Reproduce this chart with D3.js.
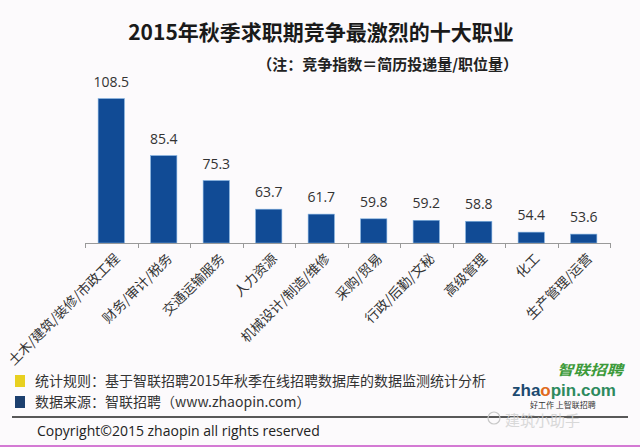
<!DOCTYPE html>
<html><head><meta charset="utf-8">
<script src="https://cdn.jsdelivr.net/npm/d3@7"></script>
<style>
html,body{margin:0;padding:0;background:#fcfafc;}
svg{display:block;}
</style></head>
<body>
<svg id="chart" width="640" height="447"></svg>
<script>
const categories = ["土木/建筑/装修/市政工程","财务/审计/税务","交通运输服务","人力资源","机械设计/制造/维修","采购/贸易","行政/后勤/文秘","高级管理","化工","生产管理/运营"];
const values = [108.5, 85.4, 75.3, 63.7, 61.7, 59.8, 59.2, 58.8, 54.4, 53.6];
const yDomain = [50, 110];
const title = "2015年秋季求职期竞争最激烈的十大职业";
const subtitle = "（注：竞争指数＝简历投递量/职位量）";
const notes = ["统计规则：基于智联招聘2015年秋季在线招聘数据库的数据监测统计分析", "数据来源：智联招聘（www.zhaopin.com）"];
const noteColors = ["#e8d020", "#1c3f6e"];
const copyright = "Copyright©2015 zhaopin all rights reserved";

const svg = d3.select("#chart");
const cjk = "'Noto Sans CJK SC', sans-serif";
const latin = "'Open Sans', 'Noto Sans CJK SC', sans-serif";

svg.append("rect").attr("width",640).attr("height",447).attr("fill","#fcfafc");

// title
svg.append("text").attr("x",321).attr("y",40).attr("text-anchor","middle")
  .attr("font-family",cjk).attr("font-weight","bold").attr("font-size",21).attr("fill","#1a1a1a").text(title);
svg.append("text").attr("x",518).attr("y",70).attr("text-anchor","end")
  .attr("font-family",cjk).attr("font-weight","bold").attr("font-size",15).attr("fill","#222").text(subtitle);

const x = d3.scaleBand().domain(categories).range([85,610]).paddingInner(0.5).paddingOuter(0.25);
const y = d3.scaleLinear().domain(yDomain).range([243, 243 - 60*2.468]);

// bars
svg.append("g").selectAll("rect").data(values).join("rect")
  .attr("x",(d,i)=>x(categories[i]))
  .attr("y",d=>y(d))
  .attr("width",x.bandwidth())
  .attr("height",d=>y(yDomain[0])-y(d))
  .attr("fill","#114b95")
  .attr("stroke","#7fb0e0").attr("stroke-width",0.6);

// value labels
svg.append("g").selectAll("text").data(values).join("text")
  .attr("x",(d,i)=>x(categories[i])+x.bandwidth()/2)
  .attr("y",d=>y(d)-12)
  .attr("text-anchor","middle")
  .attr("font-family",latin).attr("font-size",14).attr("fill","#333")
  .text(d=>d.toFixed(1));

// axis
const step = x.step();
const tickPos = d3.range(categories.length+1).map(i=>85+i*step);
const ax = svg.append("g");
ax.append("line").attr("x1",85).attr("x2",610).attr("y1",243.5).attr("y2",243.5).attr("stroke","#999").attr("stroke-width",1);
ax.selectAll("line.t").data(tickPos).join("line").attr("class","t")
  .attr("x1",d=>Math.round(d)+0.5).attr("x2",d=>Math.round(d)+0.5).attr("y1",243).attr("y2",248)
  .attr("stroke","#999");

// category labels
svg.append("g").selectAll("text").data(categories).join("text")
  .attr("transform",d=>`translate(${x(d)+x.bandwidth()/2+6},${256}) rotate(-45)`)
  .attr("text-anchor","end").attr("dy","0.35em")
  .attr("font-family",cjk).attr("font-size",13.5).attr("fill","#333")
  .text(d=>d);

// footer notes
const fy = [381, 402];
notes.forEach((t,i)=>{
  svg.append("rect").attr("x",15).attr("y",fy[i]-6).attr("width",10).attr("height",12).attr("fill",noteColors[i]);
  svg.append("text").attr("x",35).attr("y",fy[i]+5).attr("font-family",cjk).attr("font-size",14).attr("fill","#333").text(t);
});
svg.append("line").attr("x1",12).attr("x2",628).attr("y1",417).attr("y2",417).attr("stroke","#222").attr("stroke-width",1.5);
svg.append("text").attr("x",37).attr("y",436).attr("font-family",latin).attr("font-size",14).attr("fill","#222").text(copyright);
svg.append("line").attr("x1",0).attr("x2",640).attr("y1",446).attr("y2",446).attr("stroke","#d47ad4").attr("stroke-width",2);

// logo
svg.append("text").attr("x",557).attr("y",375)
  .attr("font-family",cjk).attr("font-weight","bold").attr("font-style","italic").attr("font-size",14).attr("fill","#3d9a3a")
  .attr("textLength",66).attr("lengthAdjust","spacingAndGlyphs").text("智联招聘");
const lg = svg.append("text").attr("x",512).attr("y",396).attr("font-family","'Liberation Sans', Arial, sans-serif").attr("font-weight","bold").attr("font-size",17);
lg.append("tspan").attr("fill","#1d4a70").text("zha");
lg.append("tspan").attr("fill","#e06a20").text("o");
lg.append("tspan").attr("fill","#2e8a5e").text("pin.com");
svg.append("text").attr("x",530).attr("y",408).attr("font-family",cjk).attr("font-size",8).attr("fill","#333").text("好工作  上智联招聘");
// watermark
svg.append("circle").attr("cx",494).attr("cy",418).attr("r",6).attr("fill","none").attr("stroke","#c8c8c8").attr("stroke-width",1.2);
svg.append("text").attr("x",505).attr("y",426).attr("font-family",cjk).attr("font-size",15).attr("fill","#d0d0d0").attr("opacity",0.8).text("建筑小助手");
</script>
</body></html>
